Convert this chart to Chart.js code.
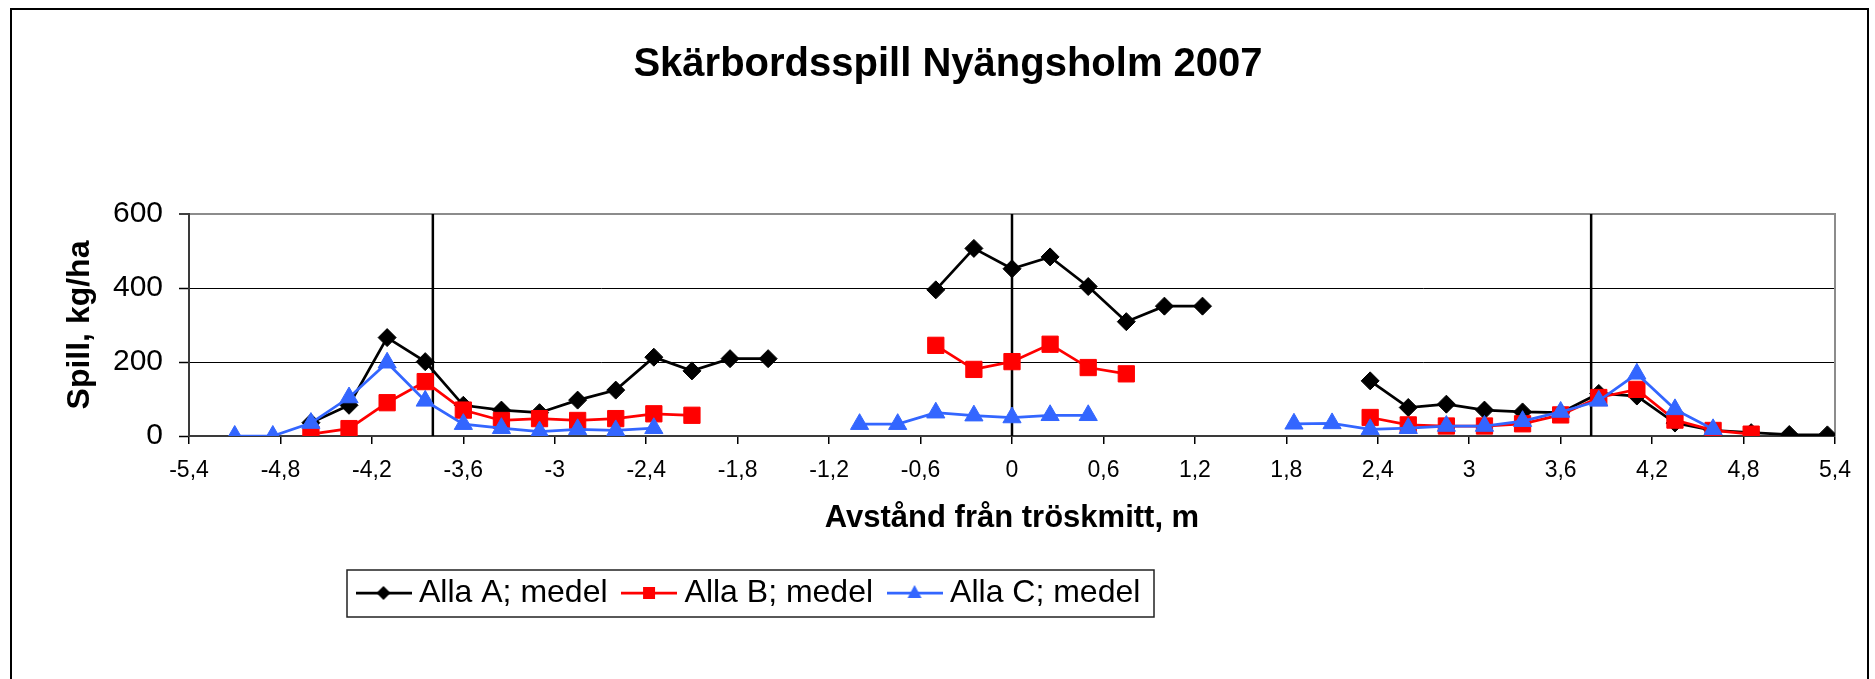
<!DOCTYPE html>
<html>
<head>
<meta charset="utf-8">
<script src="https://cdn.jsdelivr.net/npm/chart.js@4.4.0/dist/chart.umd.min.js"></script>
<style>
html,body{margin:0;padding:0;background:#fff;}
#wrap{position:relative;width:1875px;height:679px;overflow:hidden;background:#fff;}
#frame{position:absolute;left:10px;top:8px;width:1859px;height:720px;border:2px solid #000;box-sizing:border-box;pointer-events:none;}
canvas{position:absolute;left:0;top:0;}
</style>
</head>
<body>
<div id="wrap"><canvas id="c" width="1875" height="679"></canvas><div id="frame"></div></div>
<script>
// ---- data ----
const distances = [-5.1, -4.85, -4.6, -4.35, -4.1, -3.85, -3.6, -3.35, -3.1, -2.85, -2.6, -2.35, -2.1, -1.85, -1.6,
                   -1.0, -0.75, -0.5, -0.25, 0, 0.25, 0.5, 0.75, 1.0, 1.25,
                   1.85, 2.1, 2.35, 2.6, 2.85, 3.1, 3.35, 3.6, 3.85, 4.1, 4.35, 4.6, 4.85, 5.1, 5.35];
const allaA = [null, null, 36, 83, 266, 201, 83, 70, 63, 97, 124, 213, 176, 209, 209,
               null, null, 395, 507, 452, 484, 404, 309, 351, 351,
               null, null, 149, 77, 86, 70, 65, 63, 115, 108, 35, 15, 9, 4, 3];
const allaB = [null, null, 5, 20, 90, 147, 70, 42, 47, 42, 47, 60, 56, null, null,
               null, null, 245, 180, 201, 248, 185, 168, null, null,
               null, null, 50, 30, 27, 27, 33, 57, 104, 126, 43, 15, 5, null, null];
const allaC = [0, 0, 35, 104, 198, 95, 32, 21, 12, 18, 15, 21, null, null, null,
               32, 32, 63, 55, 50, 56, 56, null, null, null,
               33, 34, 18, 21, 27, 27, 40, 65, 95, 168, 72, 18, null, null, null];
const markerLines = [-3.8, 0, 3.8];
const xTickValues = [-5.4, -4.8, -4.2, -3.6, -3, -2.4, -1.8, -1.2, -0.6, 0, 0.6, 1.2, 1.8, 2.4, 3, 3.6, 4.2, 4.8, 5.4];
const yTickValues = [0, 200, 400, 600];
const seriesNames = ['Alla A; medel', 'Alla B; medel', 'Alla C; medel'];
const chartTitle = 'Skärbordsspill Nyängsholm 2007';
const xTitle = 'Avstånd från tröskmitt, m';
const yTitle = 'Spill, kg/ha';

// ---- styles ----
const FONT = "'Liberation Sans', Arial, Helvetica, sans-serif";
const colors = ['#000000', '#FF0000', '#3366FF'];
const pointStyles = ['rectRot', 'rect', 'triangle'];
const pointRadii = [9, 11.5, 10.5];

function makeSample(i) {
  const c = document.createElement('canvas');
  c.width = 56; c.height = 26;
  const g = c.getContext('2d');
  g.strokeStyle = colors[i]; g.fillStyle = colors[i]; g.lineWidth = 2.75;
  g.beginPath(); g.moveTo(0, 13); g.lineTo(56, 13); g.stroke();
  g.beginPath();
  if (i === 0) { g.moveTo(28, 6); g.lineTo(35, 13); g.lineTo(28, 20); g.lineTo(21, 13); }
  else if (i === 1) { g.rect(22, 7, 12, 12); }
  else { g.moveTo(28, 5); g.lineTo(35, 18); g.lineTo(21, 18); }
  g.closePath(); g.fill();
  return c;
}
const samples = [0, 1, 2].map(makeSample);

const series = [allaA, allaB, allaC].map((vals, i) => ({
  type: 'line',
  label: seriesNames[i],
  data: distances.map((x, k) => ({x: x, y: vals[k]})),
  borderColor: colors[i],
  backgroundColor: colors[i],
  borderWidth: 2.75,
  pointStyle: pointStyles[i],
  pointRadius: pointRadii[i],
  pointBorderWidth: 1,
  pointBackgroundColor: colors[i],
  pointBorderColor: colors[i],
  spanGaps: false,
  tension: 0,
  order: 3 - i
}));

const vLines = markerLines.map(x => ({
  type: 'line',
  label: 'v' + x,
  data: [{x: x, y: yTickValues[0]}, {x: x, y: yTickValues[yTickValues.length - 1]}],
  borderColor: '#000',
  borderWidth: 2.5,
  pointRadius: 0,
  order: 10
}));

const framePlugin = {
  id: 'framePlugin',
  beforeDatasetsDraw(chart) {
    const a = chart.chartArea, ctx = chart.ctx;
    ctx.save();
    ctx.strokeStyle = '#8c8c8c';
    ctx.lineWidth = 2;
    ctx.beginPath();
    ctx.moveTo(a.right, a.top - 1);
    ctx.lineTo(a.right, a.bottom);
    ctx.stroke();
    ctx.restore();
  },
  afterLayout(chart) {
    const lg = chart.legend;
    const dx = 342 - lg.left, dy = 555 - lg.top;
    lg.left += dx; lg.right = lg.left + 1200;
    lg.top += dy; lg.bottom = lg.top + 80;
  },
  afterDraw(chart) {
    const ctx = chart.ctx;
    ctx.save();
    ctx.strokeStyle = '#222';
    ctx.lineWidth = 1.5;
    ctx.strokeRect(347, 570, 807, 47);
    ctx.restore();
  }
};

Chart.defaults.font.family = FONT;
Chart.defaults.color = '#000';

new Chart(document.getElementById('c'), {
  type: 'line',
  data: { datasets: [...series, ...vLines] },
  options: {
    responsive: false,
    animation: false,
    devicePixelRatio: 1,
    layout: { padding: { top: 41, left: 61, right: 40, bottom: 78 } },
    scales: {
      x: {
        type: 'linear',
        min: xTickValues[0],
        max: xTickValues[xTickValues.length - 1],
        afterBuildTicks: s => { s.ticks = xTickValues.map(v => ({value: v})); },
        afterFit: s => { s.height = 101; },
        ticks: {
          autoSkip: false, maxRotation: 0, minRotation: 0,
          padding: 13,
          font: { size: 23 }, color: '#000',
          callback: v => String(v).replace('.', ',')
        },
        grid: { drawOnChartArea: false, drawTicks: true, tickLength: 8, color: '#000', lineWidth: 1.5 },
        border: { display: true, color: '#3a3a3a', width: 2 },
        title: { display: true, text: xTitle, font: { size: 31, weight: 'bold' }, color: '#000', padding: 0 }
      },
      y: {
        type: 'linear',
        min: yTickValues[0],
        max: yTickValues[yTickValues.length - 1],
        afterBuildTicks: s => { s.ticks = yTickValues.map(v => ({value: v})); },
        afterFit: s => { s.width = 128; },
        ticks: { padding: 16, font: { size: 30 }, color: '#000' },
        grid: {
          color: c => (c.tick && c.tick.value === 600) ? '#8c8c8c' : '#000',
          lineWidth: c => (c.tick && c.tick.value === 600) ? 2 : 1,
          tickColor: '#000', tickWidth: 1.5,
          drawTicks: true, tickLength: 10
        },
        border: { display: true, color: '#3a3a3a', width: 2 },
        title: { display: true, text: yTitle, font: { size: 32, weight: 'bold' }, color: '#000', padding: 0 }
      }
    },
    plugins: {
      title: {
        display: true, text: chartTitle,
        font: { size: 40, weight: 'bold', lineHeight: 1.2 }, color: '#000',
        padding: { top: 0, bottom: 125 }
      },
      legend: {
        position: 'bottom',
        align: 'start',
        labels: {
          usePointStyle: true,
          pointStyleWidth: 39,
          boxHeight: 32,
          padding: 22,
          color: '#000',
          font: { size: 32 },
          generateLabels: () => seriesNames.map((n, i) => ({
            text: n, fillStyle: colors[i], strokeStyle: colors[i], lineWidth: 0,
            pointStyle: samples[i], hidden: false, datasetIndex: i, fontColor: '#000'
          }))
        }
      },
      tooltip: { enabled: false }
    }
  },
  plugins: [framePlugin]
});
</script>
</body>
</html>
